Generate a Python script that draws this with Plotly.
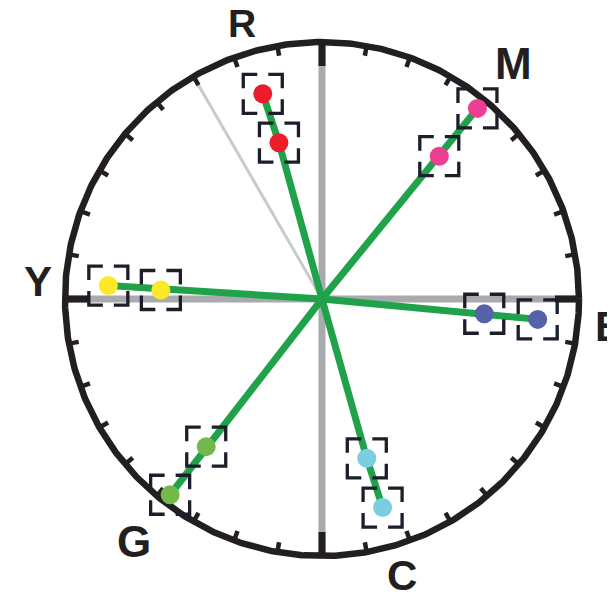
import numpy as np
import plotly.graph_objects as go

# ---- data -------------------------------------------------------------
LABELS = ["R", "M", "B", "C", "G", "Y"]
COLORS = ["#ec1c2a", "#ec3f94", "#5561a9", "#7bcde0", "#72b84a", "#fde82a"]
ANGLE_OUTER = [106.1, 50.8, -5.4, 286.2, 232.2, 176.4]     # degrees
RADIUS_OUTER = [0.831, 0.957, 0.843, 0.845, 0.964, 0.833]  # fraction of full scale
ANGLE_INNER = [105.4, 50.6, -5.2, 285.7, 231.9, 176.8]
RADIUS_INNER = [0.631, 0.719, 0.634, 0.644, 0.730, 0.628]
TICK_STEP_DEG = 10
SKIN_LINE_DEG = 120

# ---- layout constants ------------------------------------------------
W, H = 615, 596
PAGE_OFFSET = 8  # default body margin of the html page
CX_PX, CY_PX, R_PX = 322 - PAGE_OFFSET, 299 - PAGE_OFFSET, 257
LABEL_R = [1.117, 1.18, 1.126, 1.122, 1.196, 1.109]
LABEL_SIZE = [39, 44, 42, 42, 44, 42]
GREEN = "#1fa24a"
GRAY = "#a8aaad"
LIGHT_GRAY = "#c9cacc"
INK = "#231f20"
BOX_INK = "#1d1d2b"
BOX_HALF_PX = 19.5
BOX_LEG_PX = 14


def pol(r, deg):
    a = np.deg2rad(deg)
    return r * np.cos(a), r * np.sin(a)


fig = go.Figure()

# gray axes
ax_x, ax_y = [], []
for d in (0, 90, 180, 270):
    x, y = pol(1.0, d)
    ax_x += [0, x, None]
    ax_y += [0, y, None]
fig.add_trace(go.Scatter(x=ax_x, y=ax_y, mode="lines",
                         line=dict(color=GRAY, width=7), hoverinfo="skip"))

# skin-tone line
sx, sy = pol(1.0, SKIN_LINE_DEG)
fig.add_trace(go.Scatter(x=[0, sx], y=[0, sy], mode="lines",
                         line=dict(color=LIGHT_GRAY, width=3), hoverinfo="skip"))

# outer ring
theta = np.linspace(0, 360, 721)
rx, ry = pol(1.0, theta)
fig.add_trace(go.Scatter(x=rx, y=ry, mode="lines",
                         line=dict(color=INK, width=6.5), hoverinfo="skip"))

# minor ticks
t_in = 1.0 - 10 / R_PX
mx, my = [], []
for d in range(0, 360, TICK_STEP_DEG):
    if d % 90 == 0:
        continue
    x0, y0 = pol(1.0, d)
    x1, y1 = pol(t_in, d)
    mx += [x0, x1, None]
    my += [y0, y1, None]
fig.add_trace(go.Scatter(x=mx, y=my, mode="lines",
                         line=dict(color=INK, width=4.5), hoverinfo="skip"))

# major ticks
t_maj = 1.0 - 24 / R_PX
jx, jy = [], []
for d in (0, 90, 180, 270):
    x0, y0 = pol(1.0, d)
    x1, y1 = pol(t_maj, d)
    jx += [x0, x1, None]
    jy += [y0, y1, None]
fig.add_trace(go.Scatter(x=jx, y=jy, mode="lines",
                         line=dict(color=INK, width=7), hoverinfo="skip"))

# green vectors: centre -> inner -> outer
for ai, ri, ao, ro in zip(ANGLE_INNER, RADIUS_INNER, ANGLE_OUTER, RADIUS_OUTER):
    xi, yi = pol(ri, ai)
    xo, yo = pol(ro, ao)
    fig.add_trace(go.Scatter(x=[0, xi, xo], y=[0, yi, yo], mode="lines",
                             line=dict(color=GREEN, width=7), hoverinfo="skip"))

# target boxes (corner brackets)
h = BOX_HALF_PX / R_PX
leg = BOX_LEG_PX / R_PX
bx, by = [], []
for angs, rads in ((ANGLE_OUTER, RADIUS_OUTER), (ANGLE_INNER, RADIUS_INNER)):
    for a, r in zip(angs, rads):
        cx, cy = pol(r, a)
        for sxn in (-1, 1):
            for syn in (-1, 1):
                ccx, ccy = cx + sxn * h, cy + syn * h
                bx += [ccx - sxn * leg, ccx, ccx, None]
                by += [ccy, ccy, ccy - syn * leg, None]
fig.add_trace(go.Scatter(x=bx, y=by, mode="lines",
                         line=dict(color=BOX_INK, width=3.3), hoverinfo="skip"))

# dots
for angs, rads in ((ANGLE_INNER, RADIUS_INNER), (ANGLE_OUTER, RADIUS_OUTER)):
    px, py = pol(np.array(rads), np.array(angs))
    fig.add_trace(go.Scatter(x=px, y=py, mode="markers",
                             marker=dict(color=COLORS, size=19, line=dict(width=0)),
                             hoverinfo="skip"))

# labels
for lab, a, lr, fs in zip(LABELS, ANGLE_OUTER, LABEL_R, LABEL_SIZE):
    x, y = pol(lr, a)
    fig.add_annotation(x=x, y=y, text=f"<b>{lab}</b>", showarrow=False,
                       xanchor="center", yanchor="middle",
                       font=dict(family="Liberation Sans, Arial, sans-serif",
                                 size=fs, color=INK))

fig.update_layout(
    width=W, height=H, showlegend=False,
    margin=dict(l=0, r=0, t=0, b=0),
    paper_bgcolor="white", plot_bgcolor="white",
    xaxis=dict(range=[-CX_PX / R_PX, (W - CX_PX) / R_PX], visible=False, fixedrange=True),
    yaxis=dict(range=[-(H - CY_PX) / R_PX, CY_PX / R_PX], visible=False, fixedrange=True),
)

fig.write_html("out.html")
